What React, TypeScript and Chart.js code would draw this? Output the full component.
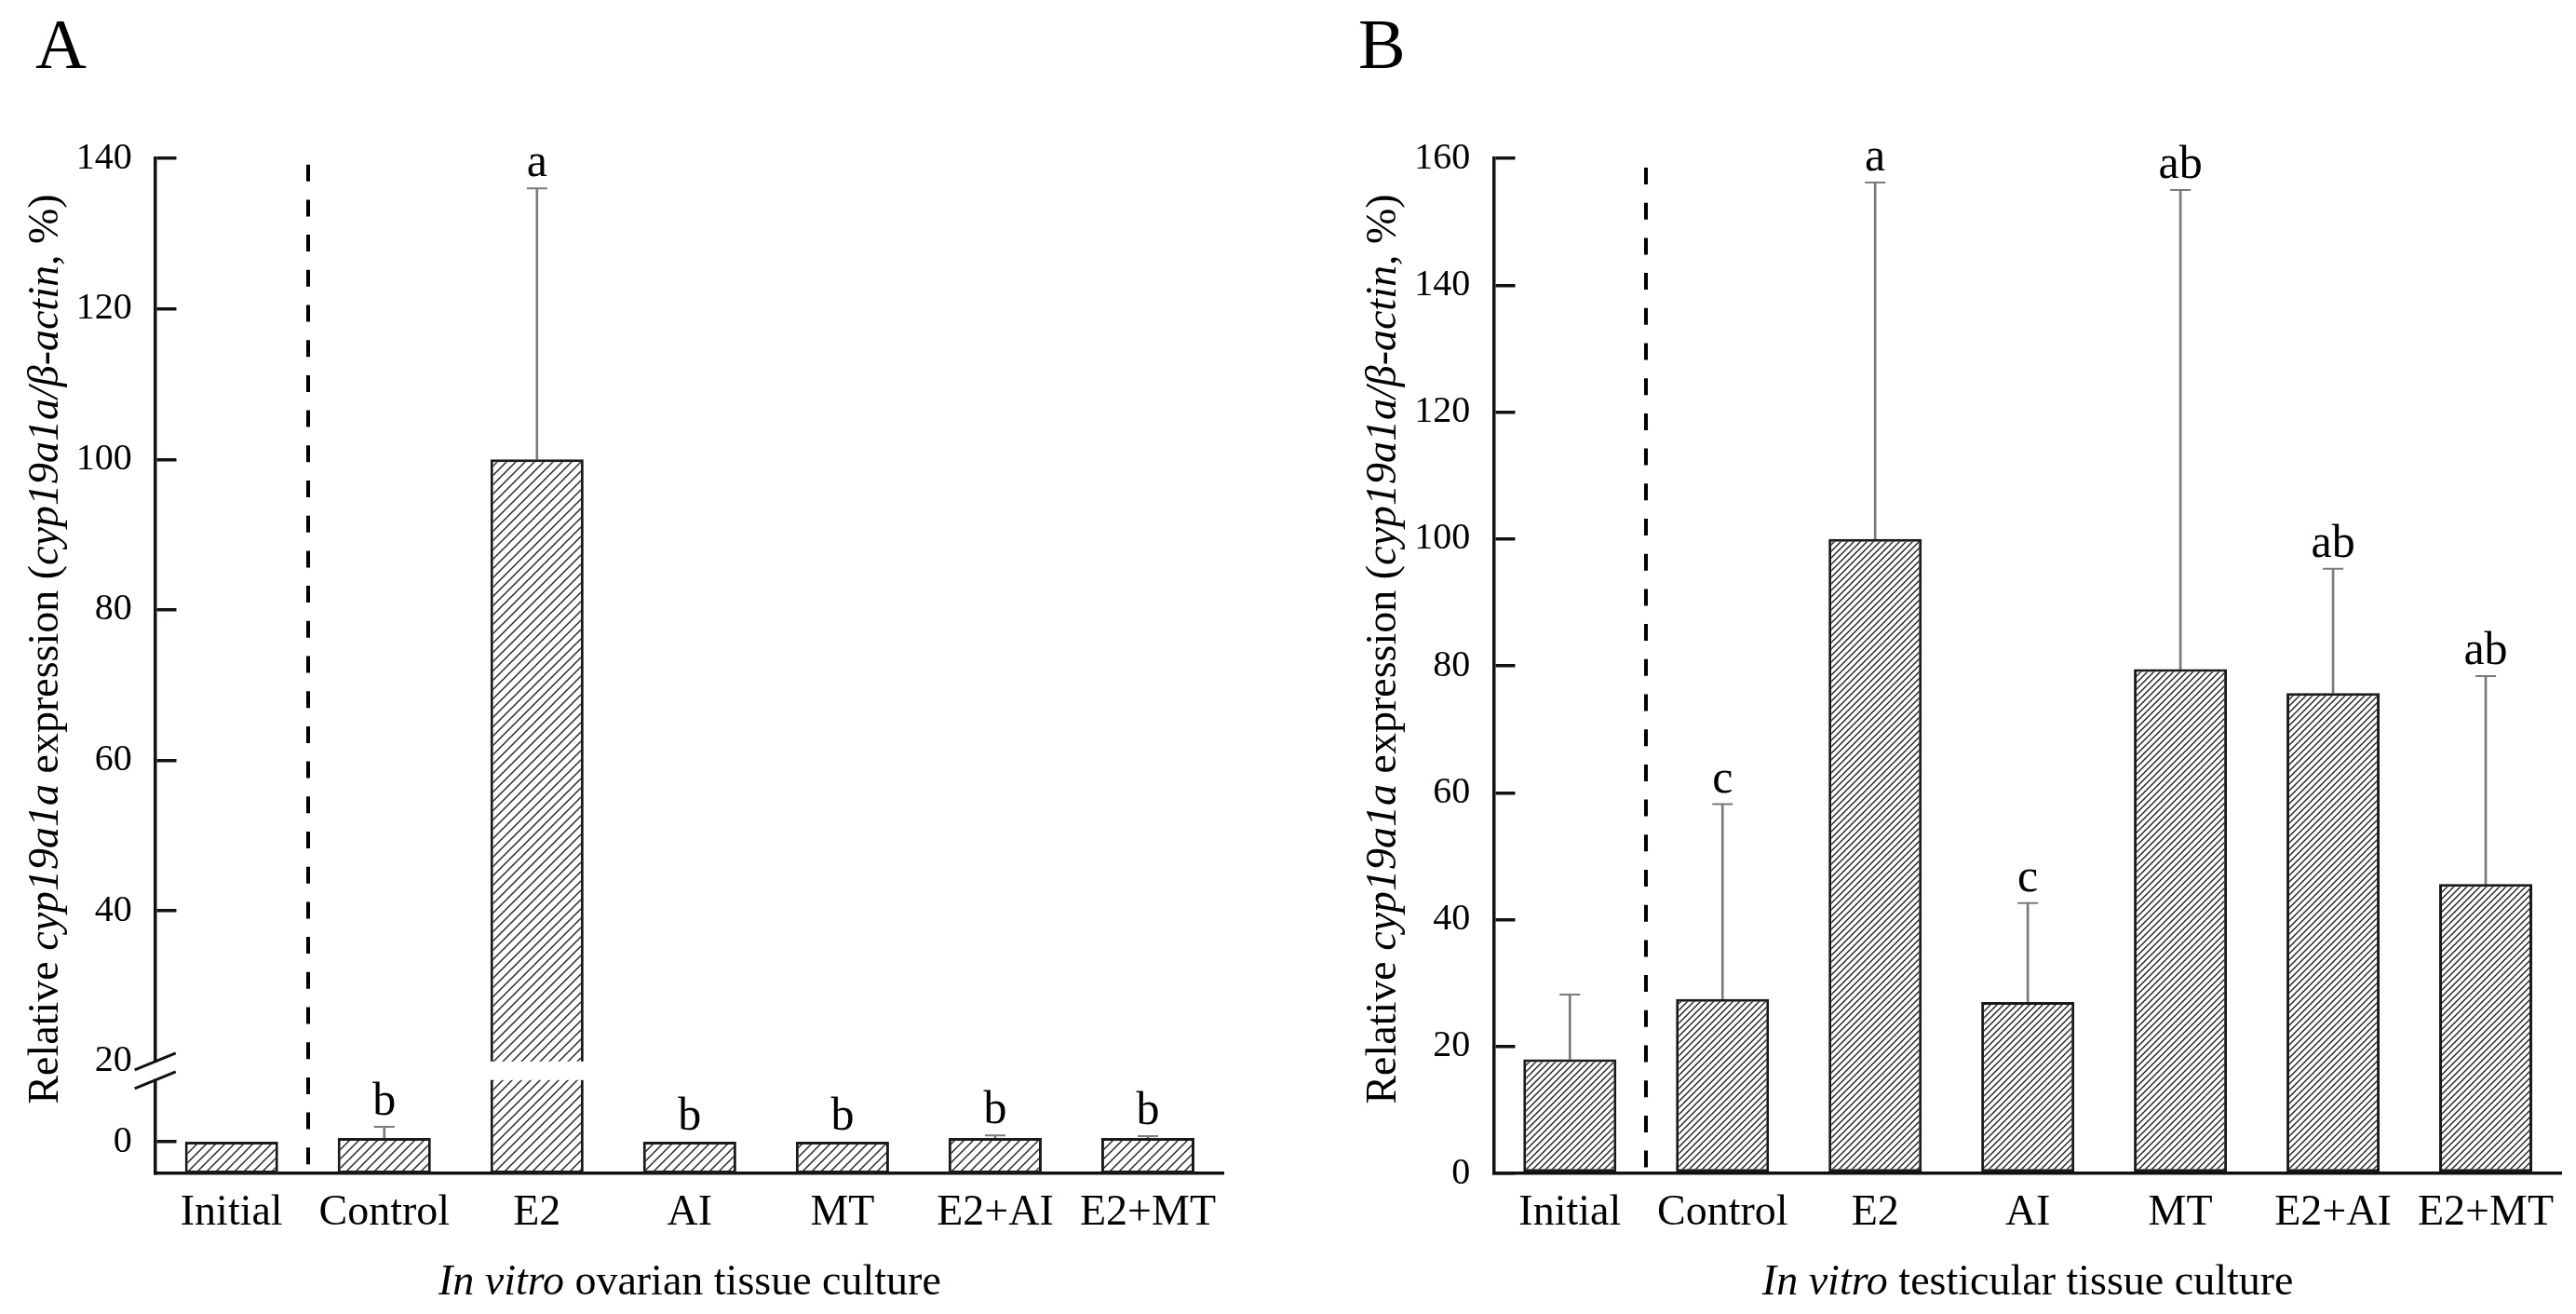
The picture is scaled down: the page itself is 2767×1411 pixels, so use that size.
import React, { useEffect, useRef } from 'react';
import { Chart, registerables, LinearScale } from 'chart.js';

Chart.register(...registerables);

// ---------------- data ----------------
const categories = ['Initial', 'Control', 'E2', 'AI', 'MT', 'E2+AI', 'E2+MT'];

const ovarianMean = [0, 0.5, 100, 0, 0, 0.5, 0.5];
const ovarianSD = [0, 1.5, 36, 0, 0, 0.35, 0.25];
const ovarianLetters = ['', 'b', 'a', 'b', 'b', 'b', 'b'];

const testicularMean = [18, 27.5, 100, 27, 79.5, 75.7, 45.6];
const testicularSD = [10.2, 30.7, 56.2, 15.6, 75.5, 19.6, 32.8];
const testicularLetters = ['', 'c', 'a', 'c', 'ab', 'ab', 'ab'];

const tickStep = 20;

// ---------------- broken linear scale ----------------
class BrokenLinearScale extends LinearScale {
  static id = 'brokenLinear';
  static defaults = LinearScale.defaults;

  squeeze(v: number): number {
    const o: any = this.options;
    const lo = o.breakStart, hi = o.breakEnd, g = o.breakGap;
    if (v <= lo) return v;
    if (v >= hi) return v - (hi - lo) + g;
    return lo + ((v - lo) / (hi - lo)) * g;
  }
  unsqueeze(c: number): number {
    const o: any = this.options;
    const lo = o.breakStart, hi = o.breakEnd, g = o.breakGap;
    if (c <= lo) return c;
    if (c >= lo + g) return c + (hi - lo) - g;
    return lo + ((c - lo) / g) * (hi - lo);
  }
  getPixelForValue(value: number): number {
    if (value === null || value === undefined) return NaN;
    const a = this.squeeze(this.min), b = this.squeeze(this.max);
    return this.getPixelForDecimal((this.squeeze(value) - a) / (b - a));
  }
  getValueForPixel(pixel: number): number {
    const a = this.squeeze(this.min), b = this.squeeze(this.max);
    return this.unsqueeze(a + this.getDecimalForPixel(pixel) * (b - a));
  }
  buildTicks() {
    super.buildTicks();
    const o: any = this.options;
    const step = o.ticks.stepSize;
    const ticks: any[] = [];
    for (let k = Math.ceil(this.min / step); k * step <= this.max + 1e-9; k++) {
      const v = k * step;
      if (!(v > o.breakStart && v < o.breakEnd)) ticks.push({ value: v });
    }
    return ticks;
  }
}
Chart.register(BrokenLinearScale as any);

const SERIF = "'Liberation Serif', 'Times New Roman', serif";

function hatch(size: number, lw: number, color: string): any {
  const c = document.createElement('canvas');
  c.width = size;
  c.height = size;
  const g = c.getContext('2d')!;
  g.fillStyle = '#ffffff';
  g.fillRect(0, 0, size, size);
  g.strokeStyle = color;
  g.lineWidth = lw;
  g.beginPath();
  g.moveTo(0, size);
  g.lineTo(size, 0);
  g.moveTo(-size / 2, size / 2);
  g.lineTo(size / 2, -size / 2);
  g.moveTo(size / 2, size * 1.5);
  g.lineTo(size * 1.5, size / 2);
  g.stroke();
  return g.createPattern(c, 'repeat');
}

type Part = { t: string; i?: boolean };

function drawRich(ctx: CanvasRenderingContext2D, parts: Part[], x: number, y: number, rot: number, size: number) {
  ctx.save();
  ctx.translate(x, y);
  ctx.rotate(rot);
  ctx.textBaseline = 'alphabetic';
  ctx.textAlign = 'left';
  ctx.fillStyle = '#000';
  let total = 0;
  const widths = parts.map((p) => {
    ctx.font = `${p.i ? 'italic ' : ''}${size}px ${SERIF}`;
    const w = ctx.measureText(p.t).width;
    total += w;
    return w;
  });
  let cx = -total / 2;
  parts.forEach((p, k) => {
    ctx.font = `${p.i ? 'italic ' : ''}${size}px ${SERIF}`;
    ctx.fillText(p.t, cx, 0);
    cx += widths[k];
  });
  ctx.restore();
}

const yTitleParts: Part[] = [
  { t: 'Relative ' },
  { t: 'cyp19a1a', i: true },
  { t: ' expression (' },
  { t: 'cyp19a1a/β-actin', i: true },
  { t: ', %)' },
];

interface PanelCfg {
  letter: string;
  means: number[];
  sd: number[];
  letters: string[];
  yMin: number;
  yMax: number;
  broken?: { start: number; end: number; gap: number };
  xTitleRest: string;
  hatchSize: number;
  padLeft: number;
  yWidth: number;
  padRight: number;
  dashOffset: number;
}

const panelA: PanelCfg = {
  letter: 'A',
  means: ovarianMean,
  sd: ovarianSD,
  letters: ovarianLetters,
  yMin: -4.2,
  yMax: 140,
  broken: { start: 8.2, end: 20, gap: 2.47 },
  xTitleRest: ' ovarian tissue culture',
  hatchSize: 10,
  padLeft: 38,
  yWidth: 128.7,
  padRight: 68,
  dashOffset: 31,
};

const panelB: PanelCfg = {
  letter: 'B',
  means: testicularMean,
  sd: testicularSD,
  letters: testicularLetters,
  yMin: 0,
  yMax: 160,
  xTitleRest: ' testicular tissue culture',
  hatchSize: 7,
  padLeft: 76,
  yWidth: 145.3,
  padRight: 15,
  dashOffset: 27.7,
};

function buildConfig(cfg: PanelCfg): any {
  const errColor = '#7a7a7a';
  const overlay = {
    id: 'overlay',
    afterDatasetsDraw(chart: any) {
      if (!cfg.broken) return;
      const ys = chart.scales.y;
      const ctx = chart.ctx;
      const yTop = ys.getPixelForValue(cfg.broken.end);
      const yBot = ys.getPixelForValue(cfg.broken.start);
      const meta = chart.getDatasetMeta(0);
      ctx.save();
      ctx.fillStyle = '#ffffff';
      meta.data.forEach((bar: any, i: number) => {
        if (cfg.means[i] >= cfg.broken!.end) {
          const p = bar.getProps(['x', 'width'], true);
          ctx.fillRect(p.x - p.width / 2 - 3, yTop, p.width + 6, yBot - yTop);
        }
      });
      ctx.restore();
    },
    afterDraw(chart: any) {
      const ctx = chart.ctx;
      const ca = chart.chartArea;
      const ys = chart.scales.y;
      const xs = chart.scales.x;
      if (cfg.broken) {
        const yTop = ys.getPixelForValue(cfg.broken.end);
        const yBot = ys.getPixelForValue(cfg.broken.start);
        ctx.save();
        ctx.fillStyle = '#ffffff';
        ctx.fillRect(ca.left - 4, yTop + 1, 8, yBot - yTop - 2);
        ctx.strokeStyle = '#111';
        ctx.lineWidth = 3;
        [yTop, yBot].forEach((yy) => {
          ctx.beginPath();
          ctx.moveTo(ca.left - 22, yy + 9);
          ctx.lineTo(ca.left + 22, yy - 9);
          ctx.stroke();
        });
        ctx.restore();
      }
      // significance letters
      ctx.save();
      ctx.font = `50px ${SERIF}`;
      ctx.textAlign = 'center';
      ctx.textBaseline = 'alphabetic';
      ctx.fillStyle = '#000';
      cfg.letters.forEach((l, i) => {
        if (!l) return;
        const top = cfg.means[i] + (cfg.sd[i] > 0 ? cfg.sd[i] : 0);
        ctx.fillText(l, xs.getPixelForValue(i), ys.getPixelForValue(top) - 13);
      });
      ctx.restore();
      // axis titles
      drawRich(ctx, yTitleParts, ca.left - 105, (ca.top + ca.bottom) / 2 - 18, -Math.PI / 2, 46);
      drawRich(
        ctx,
        [{ t: 'In vitro', i: true }, { t: cfg.xTitleRest }],
        (ca.left + ca.right) / 2,
        1390,
        0,
        46
      );
    },
  };

  const yScale: any = {
    type: cfg.broken ? 'brokenLinear' : 'linear',
    min: cfg.yMin,
    max: cfg.yMax,
    afterFit: (s: any) => {
      s.width = cfg.yWidth;
    },
    ticks: {
      stepSize: tickStep,
      color: '#000',
      padding: 25,
      font: { family: SERIF, size: 40 },
    },
    grid: {
      drawTicks: false,
      drawOnChartArea: true,
      lineWidth: 3.5,
      color: (c: any) =>
        cfg.broken && c.tick && c.tick.value === cfg.broken.end ? 'rgba(0,0,0,0)' : '#111',
    },
    border: { display: true, color: '#111', width: 3.5, dash: [21, 5000] },
  };
  if (cfg.broken) {
    yScale.breakStart = cfg.broken.start;
    yScale.breakEnd = cfg.broken.end;
    yScale.breakGap = cfg.broken.gap;
  }

  const barBase: any = cfg.broken ? { base: cfg.yMin } : {};

  return {
    type: 'bar',
    data: {
      labels: categories,
      datasets: [
        {
          type: 'bar',
          data: cfg.means,
          backgroundColor: hatch(cfg.hatchSize, 1.5, '#2a2a2a'),
          borderColor: '#1a1a1a',
          borderWidth: 3,
          borderSkipped: false,
          barPercentage: 0.61,
          categoryPercentage: 1,
          ...barBase,
        },
        {
          type: 'bar',
          data: cfg.means.map((m, i) => (cfg.sd[i] > 0 ? [m, m + cfg.sd[i]] : null)),
          backgroundColor: errColor,
          borderWidth: 0,
          barThickness: 2,
          grouped: false,
        },
        {
          type: 'line',
          data: cfg.means.map((m, i) => (cfg.sd[i] > 0 ? m + cfg.sd[i] : null)),
          showLine: false,
          pointStyle: 'line',
          pointRadius: 11,
          pointHoverRadius: 11,
          pointBorderWidth: 2,
          pointBorderColor: errColor,
          borderColor: errColor,
          backgroundColor: errColor,
        },
      ],
    },
    options: {
      animation: false,
      responsive: false,
      maintainAspectRatio: false,
      events: [],
      layout: { padding: { left: cfg.padLeft, right: cfg.padRight, top: 0, bottom: 0 } },
      plugins: {
        legend: { display: false },
        tooltip: { enabled: false },
        title: {
          display: true,
          text: cfg.letter,
          align: 'start',
          color: '#000',
          font: { family: SERIF, size: 76, weight: 'normal', lineHeight: 1.2 },
          padding: { top: 7, bottom: 71.8 },
        },
      },
      scales: {
        x: {
          afterFit: (s: any) => {
            s.height = 151;
          },
          ticks: {
            color: '#000',
            padding: 15,
            maxRotation: 0,
            autoSkip: false,
            font: { family: SERIF, size: 46, lineHeight: 1.2 },
          },
          grid: {
            drawTicks: false,
            drawOnChartArea: true,
            color: (c: any) => (c.index === 1 ? '#000' : 'rgba(0,0,0,0)'),
            lineWidth: (c: any) => (c.index === 1 ? 4 : 0),
          },
          border: { display: true, color: '#111', width: 3.5, dash: [18, 19.7], dashOffset: cfg.dashOffset },
        },
        y: yScale,
      },
    },
    plugins: [overlay],
  };
}

function Panel({ cfg, left, width }: { cfg: PanelCfg; left: number; width: number }) {
  const ref = useRef<HTMLCanvasElement>(null);
  useEffect(() => {
    const chart = new Chart(ref.current!, buildConfig(cfg));
    return () => chart.destroy();
  }, [cfg]);
  return (
    <canvas
      ref={ref}
      width={width}
      height={1411}
      style={{ position: 'absolute', left, top: 0, width, height: 1411 }}
    />
  );
}

export default function App() {
  useEffect(() => {
    document.body.style.margin = '0';
  }, []);
  return (
    <div style={{ position: 'absolute', left: 0, top: 0, width: 2767, height: 1411, background: '#fff' }}>
      <Panel cfg={panelA} left={0} width={1383} />
      <Panel cfg={panelB} left={1383} width={1384} />
    </div>
  );
}
